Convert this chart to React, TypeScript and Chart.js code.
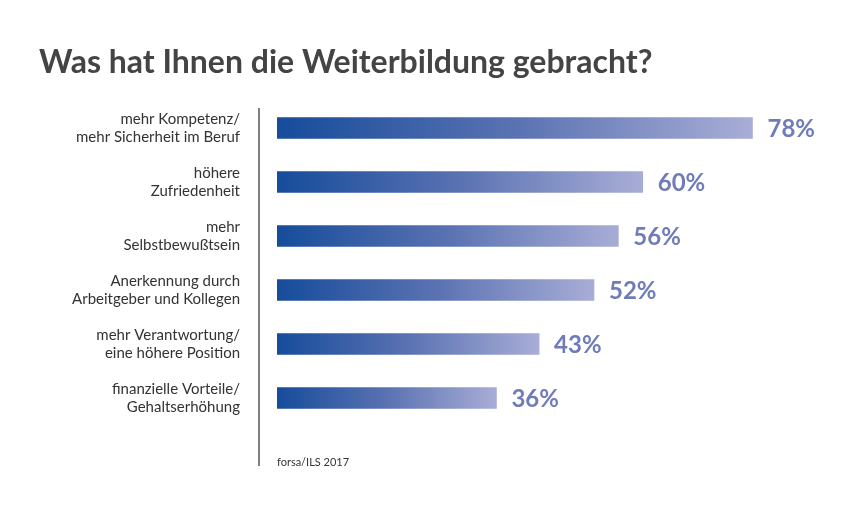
import React, { useEffect, useRef } from "react";
import { Chart, registerables } from "chart.js";

Chart.register(...registerables);

const TITLE = "Was hat Ihnen die Weiterbildung gebracht?";
const SOURCE = "forsa/ILS 2017";
const categories: string[][] = [
  ["mehr Kompetenz/", "mehr Sicherheit im Beruf"],
  ["höhere", "Zufriedenheit"],
  ["mehr", "Selbstbewußtsein"],
  ["Anerkennung durch", "Arbeitgeber und Kollegen"],
  ["mehr Verantwortung/", "eine höhere Position"],
  ["finanzielle Vorteile/", "Gehaltserhöhung"],
];
const values: number[] = [78, 60, 56, 52, 43, 36];

const FONT = "Lato, 'Open Sans', sans-serif";

const decorPlugin = {
  id: "decor",
  afterDatasetsDraw(chart: any) {
    const ctx = chart.ctx as CanvasRenderingContext2D;
    const y = chart.scales.y;
    const x = chart.scales.x;
    ctx.save();
    // title
    ctx.fillStyle = "#444444";
    ctx.font = `bold 32px ${FONT}`;
    ctx.textAlign = "left";
    ctx.textBaseline = "alphabetic";
    ctx.fillText(TITLE, 39, 73);
    // axis line
    ctx.strokeStyle = "#555555";
    ctx.lineWidth = 1.5;
    ctx.beginPath();
    ctx.moveTo(259, 108);
    ctx.lineTo(259, 466);
    ctx.stroke();
    // category labels
    ctx.fillStyle = "#333333";
    ctx.font = `15px ${FONT}`;
    ctx.textAlign = "right";
    ctx.textBaseline = "middle";
    categories.forEach((lines, i) => {
      const cy = y.getPixelForValue(i);
      const lh = 18;
      const start = cy - ((lines.length - 1) * lh) / 2;
      lines.forEach((l, j) => ctx.fillText(l, 240, start + j * lh));
    });
    // value labels
    ctx.fillStyle = "#707cba";
    ctx.font = `bold 24px ${FONT}`;
    ctx.textAlign = "left";
    values.forEach((v, i) => {
      const cy = y.getPixelForValue(i);
      ctx.fillText(`${v}%`, x.getPixelForValue(v) + 15, cy + 1);
    });
    // source
    ctx.fillStyle = "#333333";
    ctx.font = `11px ${FONT}`;
    ctx.textBaseline = "middle";
    ctx.fillText(SOURCE, 277, 462);
    ctx.restore();
  },
};

export default function App() {
  const ref = useRef<HTMLCanvasElement | null>(null);
  useEffect(() => {
    document.body.style.margin = "0";
    document.body.style.background = "#ffffff";
    const canvas = ref.current!;
    const chart = new Chart(canvas, {
      type: "bar",
      data: {
        labels: categories.map((c) => c.join(" ")),
        datasets: [
          {
            data: values,
            barThickness: 21,
            borderWidth: 0,
            backgroundColor: (context: any) => {
              const ch = context.chart;
              const xs = ch.scales?.x;
              if (!xs || context.type !== "data") return "#4a66ab";
              const v = context.raw as number;
              const x0 = xs.getPixelForValue(0);
              const x1 = xs.getPixelForValue(v);
              if (!isFinite(x0) || !isFinite(x1) || x1 <= x0) return "#4a66ab";
              const g = ch.ctx.createLinearGradient(x0, 0, x1, 0);
              g.addColorStop(0, "#164c9b");
              g.addColorStop(0.5, "#5a72b2");
              g.addColorStop(1, "#a8add6");
              return g;
            },
          },
        ],
      },
      options: {
        indexAxis: "y",
        animation: false,
        responsive: false,
        maintainAspectRatio: false,
        layout: { padding: { left: 277, top: 101, bottom: 92, right: 0 } },
        plugins: {
          legend: { display: false },
          tooltip: { enabled: false },
          title: { display: false },
        },
        scales: {
          x: { display: false, min: 0, max: 94 },
          y: { display: false, offset: true },
        },
      },
      plugins: [decorPlugin],
    } as any);
    return () => chart.destroy();
  }, []);
  return (
    <div style={{ position: "absolute", left: 0, top: 0, width: 850, height: 517, background: "#fff" }}>
      <canvas ref={ref} width={850} height={517} style={{ width: 850, height: 517, display: "block" }} />
    </div>
  );
}
